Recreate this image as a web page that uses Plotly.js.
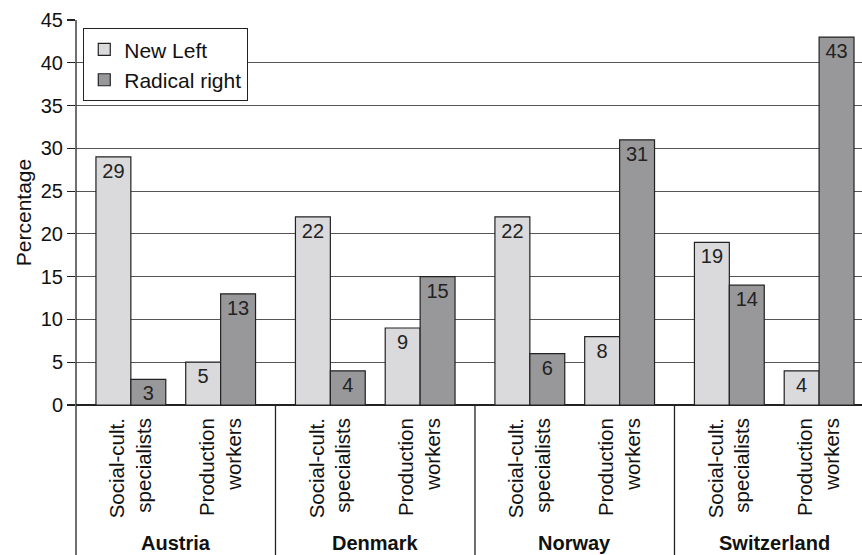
<!DOCTYPE html>
<html>
<head>
<meta charset="utf-8">
<script src="https://cdn.plot.ly/plotly-3.0.1.min.js"></script>
<style>html,body{margin:0;padding:0;background:#fff;overflow:hidden}</style>
</head>
<body>
<div id="chart" style="width:862px;height:555px"></div>
<script>
const countries = ['Austria', 'Denmark', 'Norway', 'Switzerland'];
const occupations = ['Social-cult.<br>specialists', 'Production<br>workers'];
const newLeft = [29, 5, 22, 9, 22, 8, 19, 4];
const radicalRight = [3, 13, 4, 15, 6, 31, 14, 43];
const yTicks = [0, 5, 10, 15, 20, 25, 30, 35, 40, 45];

// position of each occupation within a country block (1 unit per country)
const occOffset = [0.275, 0.725];
const xs = [], tickText = [];
countries.forEach((c, i) => occupations.forEach((o, j) => { xs.push(i + occOffset[j]); tickText.push(o); }));

const FONT = 'Liberation Sans, Arial, Helvetica, sans-serif';
const lineStyle = {color: '#222', width: 1.2};

const traces = [
  {type: 'bar', name: 'New Left', x: xs, y: newLeft, text: newLeft.map(String),
   textposition: 'inside', insidetextanchor: 'end', textangle: 0, constraintext: 'none', cliponaxis: false,
   insidetextfont: {family: FONT, size: 20, color: '#222'},
   marker: {color: '#dadadc', line: lineStyle}, hoverinfo: 'skip'},
  {type: 'bar', name: 'Radical right', x: xs, y: radicalRight, text: radicalRight.map(String),
   textposition: 'inside', insidetextanchor: 'end', textangle: 0, constraintext: 'none', cliponaxis: false,
   insidetextfont: {family: FONT, size: 20, color: '#222'},
   marker: {color: '#98989a', line: lineStyle}, hoverinfo: 'skip'}
];

const shapes = [
  {type: 'line', xref: 'paper', yref: 'paper', x0: 0, x1: 0, y0: -0.42, y1: 1, line: {color: '#222', width: 1.3}}
];
for (let i = 1; i < countries.length; i++) {
  shapes.push({type: 'line', xref: 'x', yref: 'paper', x0: i, x1: i, y0: -0.42, y1: 0, line: {color: '#222', width: 1.3}});
}
const annotations = countries.map((c, i) => ({
  text: '<b>' + c + '</b>', xref: 'x', yref: 'paper', x: i + 0.5, y: -0.358,
  xanchor: 'center', yanchor: 'middle', showarrow: false,
  font: {family: FONT, size: 20, color: '#111'}
}));

const layout = {
  width: 862, height: 555,
  margin: {l: 76, r: 0, t: 20, b: 150},
  paper_bgcolor: '#fff', plot_bgcolor: '#fff',
  font: {family: FONT, color: '#111'},
  barmode: 'group', bargap: 0.2222, bargroupgap: 0,
  xaxis: {
    range: [0, 3.94], tickvals: xs, ticktext: tickText, tickangle: -90,
    ticks: '', showgrid: false, zeroline: false, showline: false,
    ticklabelstandoff: 8,
    tickfont: {family: FONT, size: 20.5, color: '#111'}, fixedrange: true
  },
  yaxis: {
    range: [0, 45], tickvals: yTicks, ticks: 'outside', ticklen: 8, tickwidth: 1.2, tickcolor: '#222',
    showgrid: true, gridcolor: '#555', gridwidth: 1,
    zeroline: true, zerolinecolor: '#222', zerolinewidth: 1.3,
    showline: false, automargin: false,
    tickfont: {family: FONT, size: 20, color: '#111'},
    title: {text: 'Percentage', font: {family: FONT, size: 21, color: '#111'}, standoff: 3},
    fixedrange: true
  },
  legend: {
    x: 0.009, y: 0.979, xanchor: 'left', yanchor: 'top',
    bgcolor: '#fff', bordercolor: '#222', borderwidth: 1.2,
    font: {family: FONT, size: 21, color: '#111'}, traceorder: 'normal'
  },
  showlegend: true,
  shapes: shapes,
  annotations: annotations
};

Plotly.newPlot('chart', traces, layout, {displayModeBar: false, staticPlot: true});
</script>
</body>
</html>
